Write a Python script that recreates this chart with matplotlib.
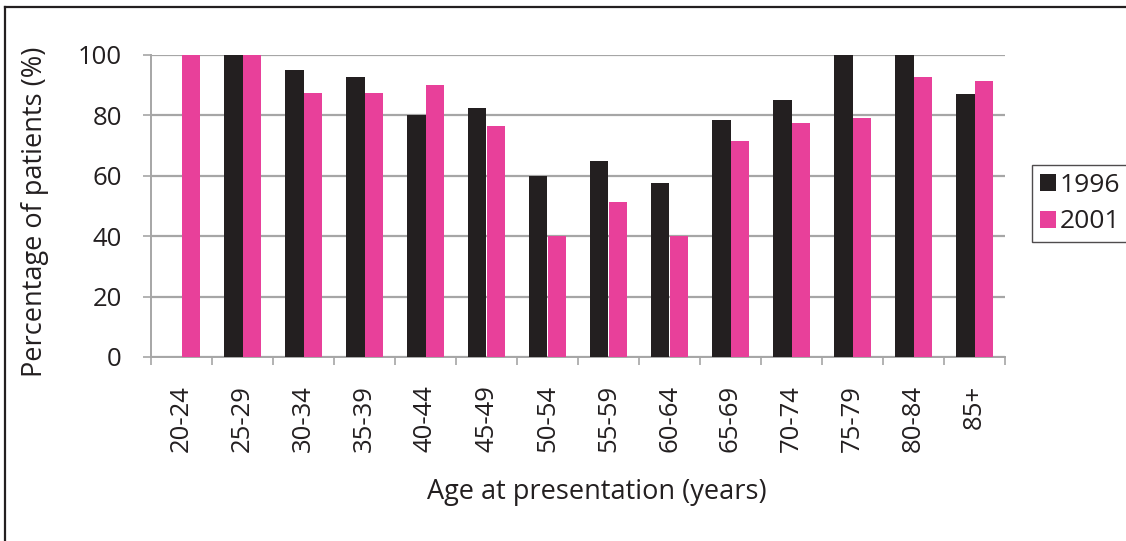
import matplotlib
matplotlib.use("Agg")
import matplotlib.pyplot as plt
from matplotlib.lines import Line2D
from matplotlib.patches import Patch
import numpy as np

plt.rcParams['font.family'] = ['Open Sans', 'DejaVu Sans']

age_groups = ["20-24", "25-29", "30-34", "35-39", "40-44", "45-49", "50-54",
              "55-59", "60-64", "65-69", "70-74", "75-79", "80-84", "85+"]
pct_1996 = [0, 100, 95, 92.6, 80, 82.4, 60, 64.8, 57.6, 78.4, 85, 100, 100, 87]
pct_2001 = [100, 100, 87.3, 87.3, 90, 76.4, 40, 51.3, 40, 71.4, 77.4, 79.1, 92.6, 91.3]
series_labels = ["1996", "2001"]
y_ticks = [0, 20, 40, 60, 80, 100]

c_1996 = "#231f20"
c_2001 = "#e8409a"
grid_c = "#a6a6a6"
text_c = "#231f20"

W, H = 1126, 541
fig = plt.figure(figsize=(W / 100, H / 100), dpi=100)
ax_l, ax_r, ax_t, ax_b = 151, 1005, 54.7, 357
ax = fig.add_axes([ax_l / W, 1 - ax_b / H, (ax_r - ax_l) / W, (ax_b - ax_t) / H])

x = np.arange(len(age_groups))
w = 0.31
ax.bar(x - w / 2, pct_1996, width=w, color=c_1996, zorder=3)
ax.bar(x + w / 2, pct_2001, width=w, color=c_2001, zorder=3)

ax.set_xlim(-0.5, len(age_groups) - 0.5)
ax.set_ylim(0, 100)
ax.set_yticks(y_ticks)
ax.yaxis.grid(True, color=grid_c, linewidth=1.6, zorder=0)

# category boundaries carry the tick marks, labels sit at centres
ax.set_xticks(np.arange(len(age_groups) + 1) - 0.5)
ax.set_xticklabels([])
ax.set_xticks(x, minor=True)
ax.set_xticklabels(age_groups, minor=True, rotation=90, fontsize=18.5, color=text_c)
ax.tick_params(axis='x', which='major', length=6, width=1.2, color=grid_c, direction='out')
ax.tick_params(axis='x', which='minor', length=0, pad=20)
ax.tick_params(axis='y', length=6, width=1.2, color=grid_c, labelsize=18.5,
               labelcolor=text_c, pad=15)

for s in ("top", "right"):
    ax.spines[s].set_visible(False)
for s in ("left", "bottom"):
    ax.spines[s].set_color(grid_c)
    ax.spines[s].set_linewidth(1.4)

ax.set_ylabel("Percentage of patients (%)", fontsize=19.5, color=text_c)
ax.set_xlabel("Age at presentation (years)", fontsize=19.5, color=text_c)
ax.yaxis.set_label_coords((49 - ax_l) / (ax_r - ax_l), (ax_b - 212) / (ax_b - ax_t))
ax.xaxis.set_label_coords((597 - ax_l) / (ax_r - ax_l), (ax_b - 478) / (ax_b - ax_t))

handles = [Patch(facecolor=c_1996), Patch(facecolor=c_2001)]
leg = fig.legend(handles, series_labels, loc="center left",
                 bbox_to_anchor=(1032 / W, 1 - 203.5 / H),
                 fontsize=19, frameon=True, fancybox=False, edgecolor=text_c,
                 handlelength=0.6, handleheight=0.6, handletextpad=0.15,
                 labelspacing=0.45, borderpad=0.3, borderaxespad=0)
leg.get_frame().set_linewidth(1.0)
for t in leg.get_texts():
    t.set_color(text_c)

# outer frame: top and left edges
fig.add_artist(Line2D([5 / W, 1], [1 - 7 / H, 1 - 7 / H],
                      transform=fig.transFigure, color=text_c, linewidth=1.6))
fig.add_artist(Line2D([5 / W, 5 / W], [0, 1 - 7 / H],
                      transform=fig.transFigure, color=text_c, linewidth=1.6))

fig.savefig("out.png", dpi=100)
